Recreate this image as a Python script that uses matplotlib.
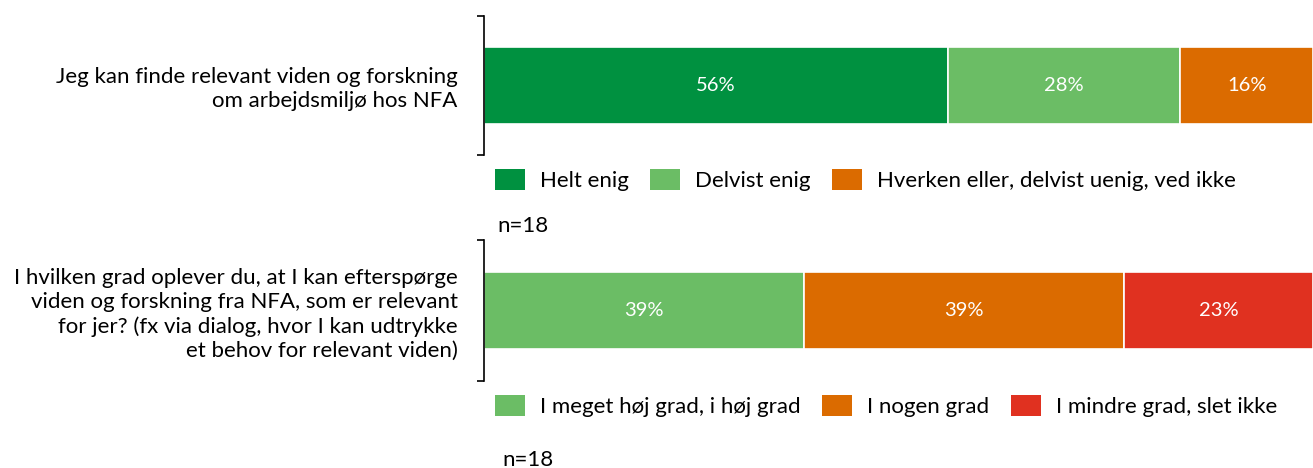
import matplotlib
matplotlib.use("Agg")
import matplotlib.pyplot as plt
from matplotlib.patches import Patch

plt.rcParams['font.family'] = ['Lato', 'DejaVu Sans']

# Data
q1_label = "Jeg kan finde relevant viden og forskning\nom arbejdsmiljø hos NFA"
q1_cats = ["Helt enig", "Delvist enig", "Hverken eller, delvist uenig, ved ikke"]
q1_vals = [56, 28, 16]
q1_colors = ["#009140", "#6bbd65", "#db6b00"]

q2_label = ("I hvilken grad oplever du, at I kan efterspørge\n"
            "viden og forskning fra NFA, som er relevant\n"
            "for jer? (fx via dialog, hvor I kan udtrykke\n"
            "et behov for relevant viden)")
q2_cats = ["I meget høj grad, i høj grad", "I nogen grad", "I mindre grad, slet ikke"]
q2_vals = [39, 39, 23]
q2_colors = ["#6bbd65", "#db6b00", "#e03120"]

n_text = "n=18"

W, H = 1313, 468
fig = plt.figure(figsize=(W / 100, H / 100), dpi=100)
FS = 16
VFS = 14.5


def panel(rect_px, label, cats, vals, colors, bar_h, legend_y, n_y, n_x):
    x0, y0, x1, y1 = rect_px
    ax = fig.add_axes([x0 / W, 1 - y1 / H, (x1 - x0) / W, (y1 - y0) / H])
    left = 0
    for v, c in zip(vals, colors):
        ax.barh(0, v, left=left, height=bar_h, color=c, edgecolor="white", linewidth=1.2)
        ax.text(left + v / 2, 0, f"{v}%", ha="center", va="center", color="white", fontsize=VFS)
        left += v
    total = sum(vals)
    ax.set_xlim(0, total)
    ax.set_ylim(-0.5, 0.5)
    for s in ["top", "right", "bottom"]:
        ax.spines[s].set_visible(False)
    ax.spines["left"].set_linewidth(1.2)
    ax.set_xticks([])
    ax.set_yticks([0])
    ax.set_yticklabels([label], fontsize=FS, linespacing=1.25, ha="right")
    ax.tick_params(axis="y", which="major", length=0, pad=19)
    ax.set_yticks([-0.5, 0.5], minor=True)
    ax.tick_params(axis="y", which="minor", length=5, width=1.2, direction="out")
    handles = [Patch(facecolor=c, edgecolor="none") for c in colors]
    fig.legend(handles, cats, loc="center left", bbox_to_anchor=(495 / W, 1 - legend_y / H),
               ncol=3, frameon=False, fontsize=FS, handlelength=21.6 / FS, handleheight=17.3 / FS,
               handletextpad=10.8 / FS, columnspacing=15.5 / FS, borderpad=0, borderaxespad=0)
    fig.text(n_x / W, 1 - n_y / H, n_text, fontsize=FS, va="center", ha="left")
    return ax


panel((484, 16, 1313, 155), q1_label, q1_cats, q1_vals, q1_colors, 0.55, 180, 226, 497)
panel((484, 240, 1313, 381), q2_label, q2_cats, q2_vals, q2_colors, 0.553, 406, 460, 502)

fig.savefig("out.png", dpi=100)
